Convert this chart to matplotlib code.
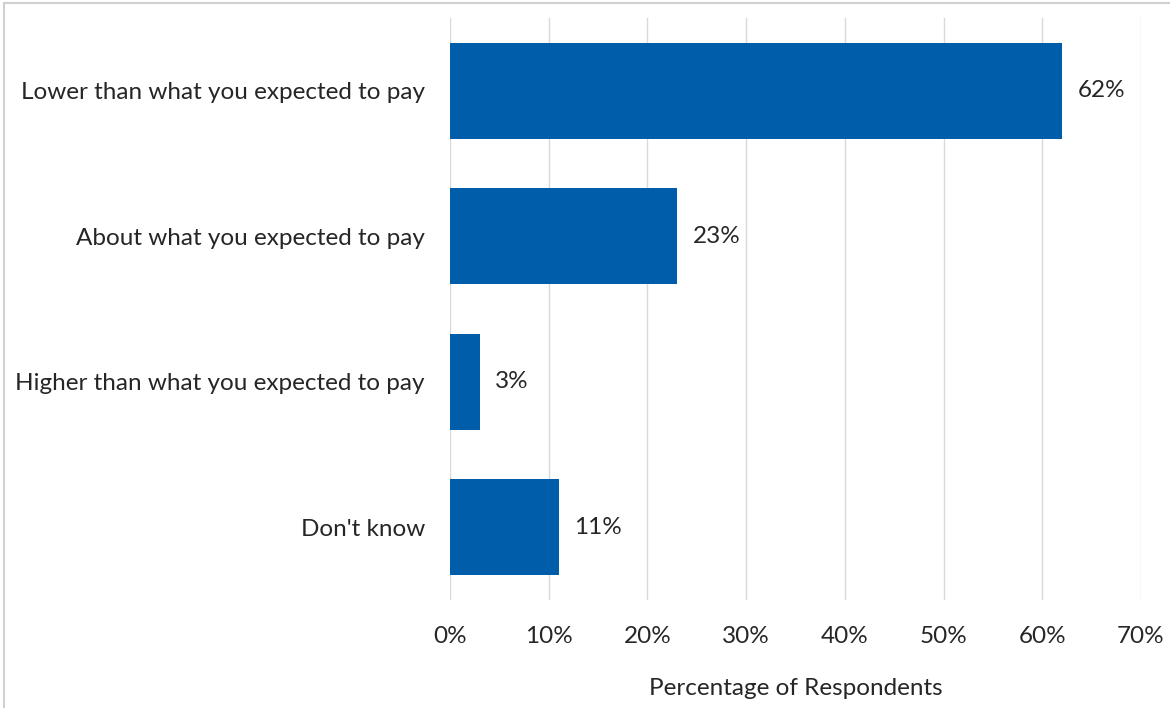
import matplotlib
matplotlib.use("Agg")
import matplotlib.pyplot as plt
from matplotlib.patches import Rectangle

categories = ["Lower than what you expected to pay",
              "About what you expected to pay",
              "Higher than what you expected to pay",
              "Don't know"]
values = [62, 23, 3, 11]
xticks = [0, 10, 20, 30, 40, 50, 60, 70]

plt.rcParams['font.family'] = ['Lato', 'DejaVu Sans']
bar_color = '#005daa'
text_color = '#262626'
fs = 17.5

fig = plt.figure(figsize=(11.7, 7.08), dpi=100)
ax = fig.add_axes([0.3846, 0.1525, 0.9752 - 0.3846, 0.9746 - 0.1525])

ypos = list(range(len(categories)))
ax.barh(ypos, values, height=0.66, color=bar_color, zorder=3)
for y, v in zip(ypos, values):
    ax.text(v + 1.6, y, f"{v}%", va='center', ha='left', fontsize=fs, color=text_color)

ax.set_ylim(len(categories) - 0.5, -0.5)
ax.set_xlim(0, 70)
ax.set_yticks(ypos)
ax.set_yticklabels(categories, fontsize=fs, color=text_color)
ax.set_xticks(xticks)
ax.set_xticklabels([f"{t}%" for t in xticks], fontsize=fs, color=text_color)
ax.tick_params(axis='both', length=0)
ax.tick_params(axis='y', pad=18)
ax.tick_params(axis='x', pad=19)
ax.grid(axis='x', color='#d9d9d9', linewidth=1, zorder=0)
for s in ax.spines.values():
    s.set_visible(False)
ax.set_xlabel("Percentage of Respondents", fontsize=fs, color=text_color, labelpad=22)

# thin frame around the chart area
fig.patches.append(Rectangle((4 / 1170, -0.01), 1.0, 1 - 3 / 708 + 0.01,
                             transform=fig.transFigure, fill=False,
                             edgecolor='#d0d0d0', linewidth=1.5))

fig.savefig("out.png", dpi=100)
